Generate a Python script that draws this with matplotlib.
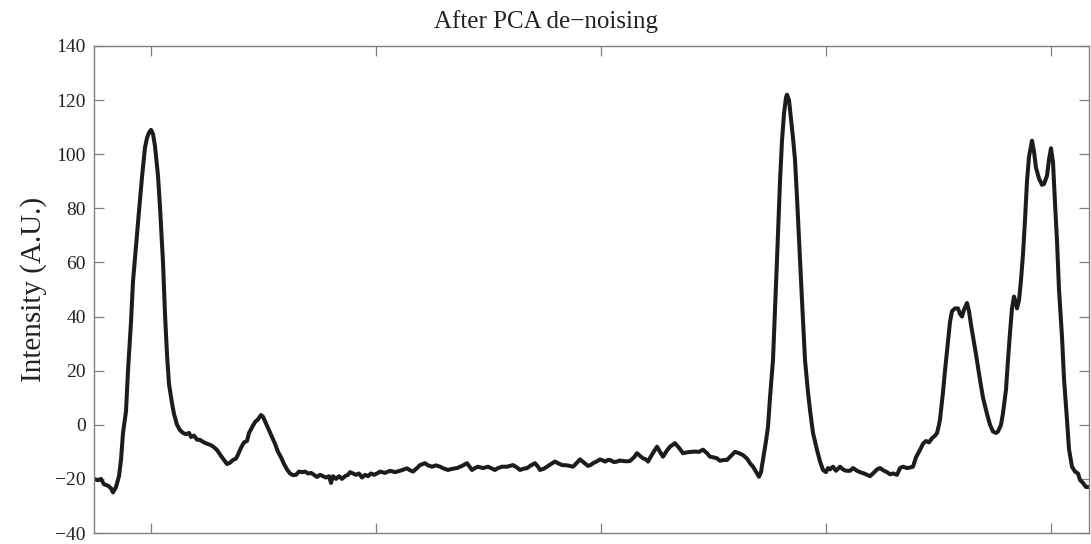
import matplotlib
matplotlib.use("Agg")
import matplotlib.pyplot as plt

# Spectrum after PCA de-noising (x in arbitrary channel units, y in A.U.)
x_vals = [-57, -53, -50, -47, -43, -40, -38, -35, -32, -30, -28, -25, -23, -20, -18, -15, -12, -9, -6, -4,
          -2, 0, 2, 4, 7, 9, 12, 14, 16, 18, 21, 23, 26, 29, 32, 35, 38, 40, 43, 46,
          49, 53, 56, 59, 62, 66, 70, 74, 76, 79, 82, 85, 87, 90, 93, 96, 98, 101, 104, 107,
          110, 112, 115, 118, 121, 124, 127, 130, 133, 136, 139, 142, 145, 148, 151, 154, 157, 160, 163, 166,
          169, 172, 175, 178, 180, 182, 185, 188, 191, 194, 197, 199, 202, 205, 208, 211, 214, 217, 220, 223,
          226, 229, 234, 239, 244, 249, 253, 256, 259, 262, 266, 269, 274, 277, 281, 285, 289, 293, 297, 301,
          306, 311, 316, 321, 324, 327, 332, 337, 341, 344, 347, 351, 356, 359, 362, 366, 369, 372, 376, 380,
          384, 387, 389, 393, 396, 400, 404, 407, 411, 416, 422, 426, 429, 433, 437, 440, 442, 446, 449, 452,
          454, 457, 459, 463, 466, 469, 472, 476, 479, 483, 486, 489, 492, 495, 497, 501, 506, 509, 512, 516,
          519, 524, 528, 532, 536, 540, 544, 548, 552, 556, 559, 562, 566, 569, 573, 576, 580, 584, 588, 592,
          596, 599, 602, 604, 606, 608, 610, 612, 615, 617, 619, 622, 624, 626, 628, 629, 631, 633, 635, 636,
          638, 640, 642, 644, 646, 649, 651, 654, 657, 659, 662, 666, 669, 672, 675, 677, 679, 682, 685, 689,
          692, 695, 699, 702, 706, 709, 713, 716, 719, 722, 726, 729, 733, 736, 739, 742, 746, 749, 752, 756,
          759, 762, 765, 769, 772, 775, 778, 781, 784, 786, 788, 789, 792, 794, 797, 799, 801, 804, 807, 809,
          811, 813, 816, 818, 820, 822, 825, 829, 832, 836, 839, 842, 845, 847, 850, 852, 855, 857, 859, 861,
          863, 865, 866, 868, 870, 872, 874, 876, 878, 880, 881, 883, 885, 888, 891, 893, 896, 898, 900, 902,
          904, 906, 908, 911, 913, 916, 918, 921, 924, 927, 929, 932, 935, 938]
intensity = [-20, -20.5, -20, -22, -22.5, -23.5, -25, -23, -19, -13, -3, 5, 20, 38, 53, 66, 79, 91.5, 102.5, 106,
             108, 109, 107.5, 103, 92, 80.6, 60, 41, 26, 15, 8, 4, 0, -2, -3, -3.5, -3, -4.5, -4, -5.5,
             -5.6, -6.5, -7, -7.4, -8, -9.3, -11.5, -13.5, -14.5, -14, -13, -12.5, -11, -8.5, -6.5, -6, -3, -1, 1, 2,
             3.6, 3, 0.5, -2, -4.5, -7, -10, -12, -14.5, -16.5, -18, -18.6, -18.5, -17.3, -17.5, -17.3, -18, -17.8, -18.5, -19.3,
             -18.5, -19, -19.5, -19, -21.5, -19, -20, -19, -20, -19, -18.5, -17.5, -18, -18.5, -18, -19.5, -18.5, -19, -18, -18.5,
             -18, -17.3, -17.8, -17, -17.5, -17, -16.5, -16.1, -16.8, -17.3, -16, -14.9, -14.2, -15, -15.5, -15, -15.5, -16.2, -16.7, -16.3,
             -16, -15.2, -14.2, -16.7, -16, -15.5, -16, -15.5, -16.2, -16.7, -16, -15.5, -15.5, -15.2, -14.9, -15.8, -16.7, -16.3, -16, -15,
             -14.2, -15.5, -16.7, -16.2, -15.5, -14.5, -13.6, -14.2, -14.9, -15, -15.5, -14, -12.8, -14, -15.2, -14.8, -14.2, -13.5, -12.8, -13.2,
             -13.6, -13, -13, -13.8, -13.6, -13.2, -13.4, -13.5, -13.4, -12, -10.5, -11.5, -12.4, -12.8, -13.6, -11, -8.1, -10, -11.8, -9.5,
             -8.1, -6.8, -8.5, -10.5, -10.2, -10, -9.9, -10, -9.2, -10.5, -11.8, -12, -12.4, -13.3, -13, -13, -11.5, -10, -10.5, -11.2,
             -12.5, -14.2, -15.5, -16.7, -18, -19.2, -17.5, -13, -6, -0.7, 10, 24, 42, 61, 80, 90, 105, 115, 121, 122,
             120, 113, 106, 98, 84, 61, 46, 24, 12, 5.5, -3, -9.3, -13.5, -16.7, -17.5, -16, -16.5, -15.5, -17, -15.5,
             -16.5, -17, -17, -16, -17, -17.5, -18, -18.5, -19, -18, -16.5, -16, -17, -17.5, -18.3, -18, -18.5, -16, -15.5, -16,
             -15.8, -15.5, -12, -9.3, -7, -6, -6.5, -5, -4, -3.1, 0, 2, 12, 20, 31, 38, 42, 43, 43, 41,
             40, 42.5, 45, 42, 37, 32.6, 26, 16.6, 10, 4, 0, -2.5, -3, -2.5, 0, 4.3, 13, 24, 34, 43,
             47.4, 45, 43, 46, 53.5, 63, 75.7, 90, 99, 103, 105, 101, 95, 91, 88.7, 89, 92, 98, 102.2, 97,
             82, 68, 50, 32.6, 17, 1.8, -9, -15.5, -17.3, -18, -20.4, -21.5, -23, -23]

y_ticks = [-40, -20, 0, 20, 40, 60, 80, 100, 120, 140]
x_ticks = [0, 225, 450, 675, 900]

title = "After PCA de\u2212noising"
y_label = "Intensity (A.U.)"

plt.rcParams['font.family'] = ['Liberation Serif', 'DejaVu Serif']
plt.rcParams['axes.unicode_minus'] = True

fig = plt.figure(figsize=(10.91, 5.44), dpi=100)
ax = fig.add_axes([94 / 1091, 11 / 544, 995 / 1091, 487 / 544])

ax.plot(x_vals, intensity, color="#1c1c1c", linewidth=2.9, solid_joinstyle="round", solid_capstyle="round")

ax.set_xlim(-57, 938)
ax.set_ylim(-40, 140)
ax.set_yticks(y_ticks)
ax.set_xticks(x_ticks)
ax.set_xticklabels([])
ax.tick_params(direction="in", length=7.2, width=0.9, color="#808080",
               top=True, right=True, labelsize=14, labelcolor="#222222", pad=6)
for s in ax.spines.values():
    s.set_color("#808080")
    s.set_linewidth(1.0)

ax.set_ylabel(y_label, fontsize=21, color="#222222", labelpad=6)
fig.text(0.5, 0.948, title, ha="center", va="baseline", fontsize=18, color="#222222")

fig.savefig("out.png", dpi=100)
